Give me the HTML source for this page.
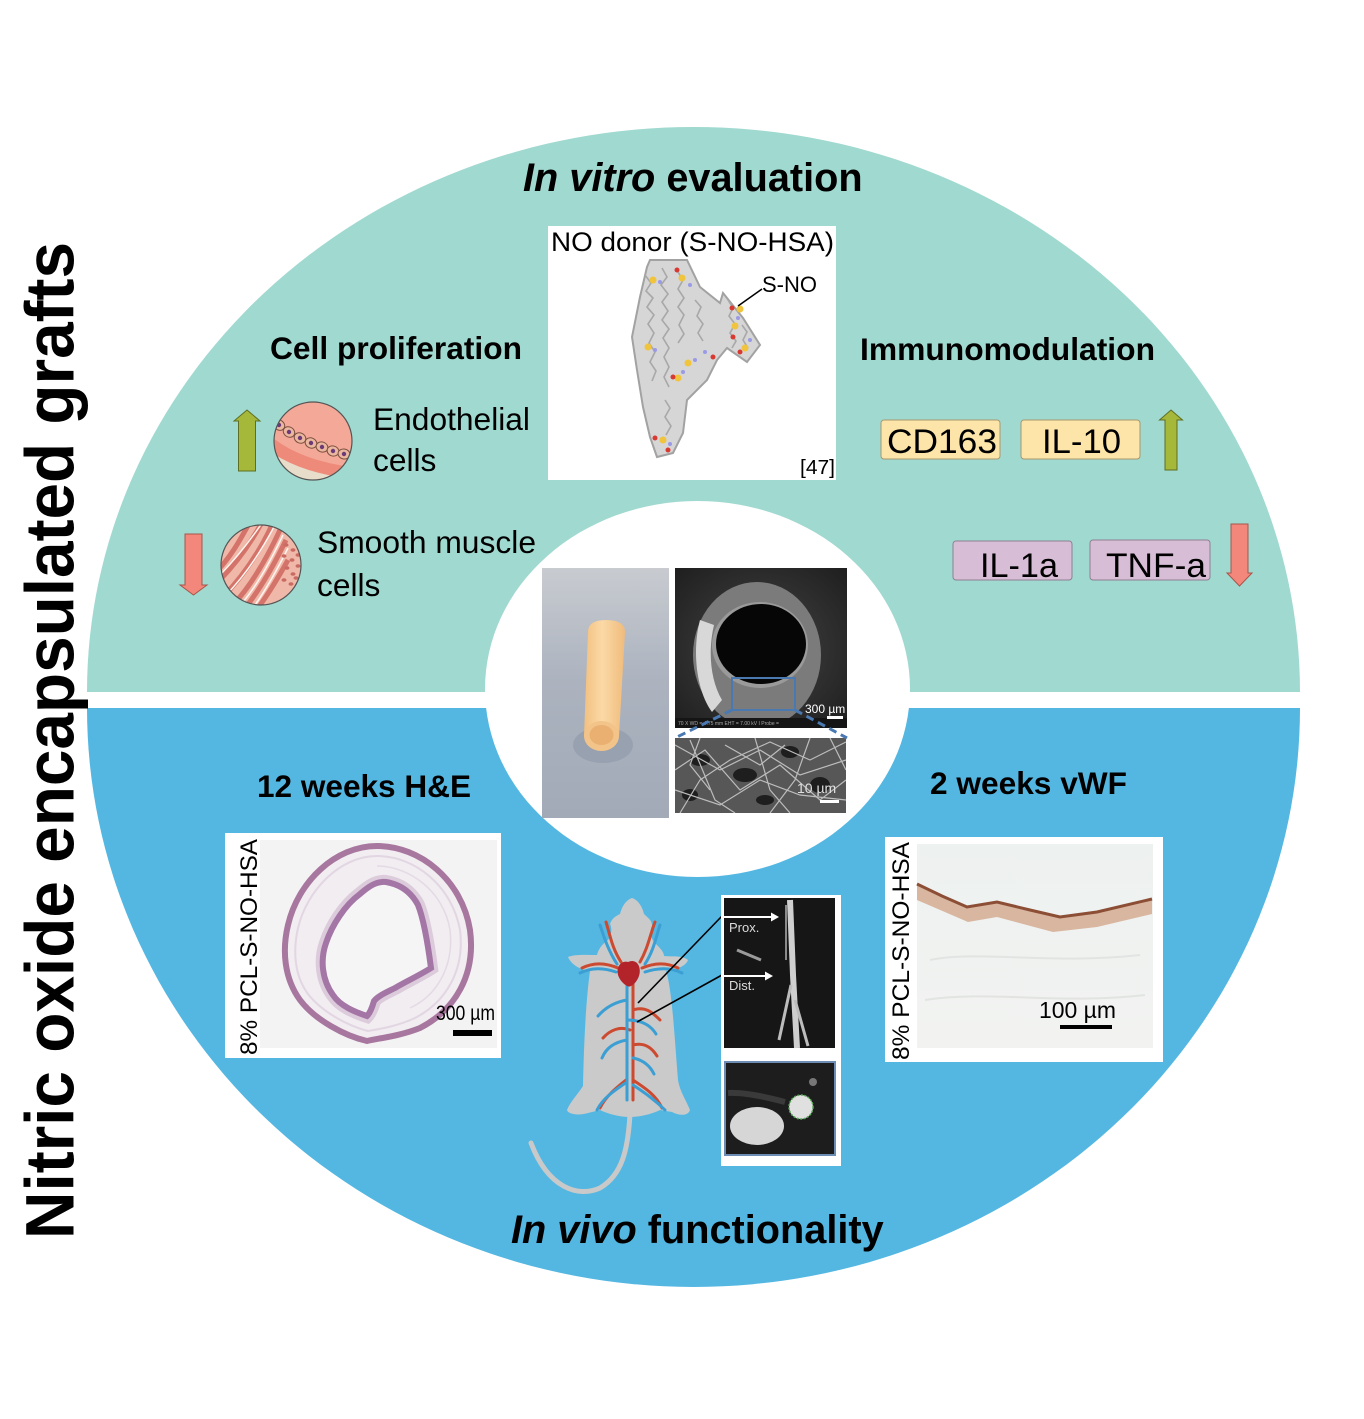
<!DOCTYPE html>
<html><head><meta charset="utf-8">
<style>
html,body{margin:0;padding:0;background:#fff;width:1364px;height:1419px;overflow:hidden}
svg{display:block}
text{font-family:"Liberation Sans",Arial,sans-serif}
</style></head><body>
<svg width="1364" height="1419" viewBox="0 0 1364 1419" xmlns="http://www.w3.org/2000/svg">
<defs>
 <clipPath id="cEndo"><circle cx="313" cy="441" r="39"/></clipPath>
 <clipPath id="cSmc"><circle cx="261" cy="565" r="40"/></clipPath>
 <clipPath id="cSem"><rect x="675" y="738" width="171" height="75"/></clipPath>
 <clipPath id="cSemTop"><rect x="675" y="568" width="172" height="160"/></clipPath>
 <linearGradient id="gTube" x1="0" y1="0" x2="0" y2="1"><stop offset="0" stop-color="#c8cbd0"/><stop offset="0.45" stop-color="#acb3bf"/><stop offset="1" stop-color="#a2aab8"/></linearGradient>
 <linearGradient id="gTubeBody" x1="0" y1="0" x2="1" y2="0"><stop offset="0" stop-color="#f2c080"/><stop offset="0.45" stop-color="#fbd9a6"/><stop offset="1" stop-color="#efbb7c"/></linearGradient>
 <radialGradient id="gSem" cx="0.5" cy="0.5" r="0.75"><stop offset="0" stop-color="#444"/><stop offset="1" stop-color="#1c1c1c"/></radialGradient>
 <linearGradient id="gVwf" x1="0" y1="0" x2="0" y2="1"><stop offset="0" stop-color="#edf1f0"/><stop offset="1" stop-color="#f2f3f1"/></linearGradient>
</defs>

<rect width="1364" height="1419" fill="#fff"/>

<!-- big halves -->
<path d="M87,692 A606.5,565 0 0 1 1300,692 Z" fill="#a0d9d0"/>
<path d="M87,708 A606.5,579 0 0 0 1300,708 Z" fill="#54b7e2"/>
<ellipse cx="697.5" cy="689" rx="212.5" ry="188" fill="#fff"/>

<!-- vertical title -->
<text transform="translate(73.5,1239) rotate(-90)" font-size="69" font-weight="bold" textLength="997" lengthAdjust="spacingAndGlyphs">Nitric oxide encapsulated grafts</text>

<!-- section titles -->
<text x="523" y="191" font-size="39.7" font-weight="bold"><tspan font-style="italic">In vitro</tspan> evaluation</text>
<text x="511" y="1243" font-size="39.7" font-weight="bold"><tspan font-style="italic">In vivo</tspan> functionality</text>

<!-- subtitles -->
<text x="270" y="359" font-size="31.5" font-weight="bold" textLength="252" lengthAdjust="spacingAndGlyphs">Cell proliferation</text>
<text x="860" y="360" font-size="31.5" font-weight="bold" textLength="295" lengthAdjust="spacingAndGlyphs">Immunomodulation</text>
<text x="257" y="797" font-size="31.5" font-weight="bold" textLength="214" lengthAdjust="spacingAndGlyphs">12 weeks H&amp;E</text>
<text x="930" y="794" font-size="31.5" font-weight="bold" textLength="197" lengthAdjust="spacingAndGlyphs">2 weeks vWF</text>

<text x="373" y="430" font-size="31.7" textLength="157" lengthAdjust="spacingAndGlyphs">Endothelial</text>
<text x="373" y="471" font-size="31.7">cells</text>
<text x="317" y="553" font-size="31.7" textLength="219" lengthAdjust="spacingAndGlyphs">Smooth muscle</text>
<text x="317" y="596" font-size="31.7">cells</text>

<!-- arrows left -->
<polygon points="247,410 260,421 255.5,421 255.5,471 238.5,471 238.5,421 234,421" fill="#a5b83a" stroke="#5e6e22" stroke-width="1"/>
<polygon points="185,534 202,534 202,585 207,585 193.5,595 180,585 185,585" fill="#f4877b" stroke="#a8554a" stroke-width="1"/>
<!-- arrows right -->
<polygon points="1171,410 1182.5,420 1177,420 1177,470 1165,470 1165,420 1159.5,420" fill="#a5b83a" stroke="#5e6e22" stroke-width="1"/>
<polygon points="1231,524 1248,524 1248,573 1252,573 1239.5,586 1227,573 1231,573" fill="#f4877b" stroke="#a8554a" stroke-width="1"/>

<!-- endothelial icon -->
<circle cx="313" cy="441" r="39" fill="#f4a898"/>
<g clip-path="url(#cEndo)">
 <path d="M268,434 Q300,462 360,468 L360,500 L260,500 Z" fill="#ee8a7a"/>
 <path d="M268,450 Q300,474 360,480 L360,500 L260,500 Z" fill="#e8dccb"/>
 <g fill="#ebb79f" stroke="#7d5040" stroke-width="1">
  <ellipse cx="279" cy="425" rx="6" ry="5" transform="rotate(35 279 425)"/>
  <ellipse cx="289" cy="432" rx="6" ry="5" transform="rotate(32 289 432)"/>
  <ellipse cx="300" cy="438" rx="6" ry="5" transform="rotate(28 300 438)"/>
  <ellipse cx="311" cy="443" rx="6" ry="5" transform="rotate(24 311 443)"/>
  <ellipse cx="322" cy="447" rx="6" ry="5" transform="rotate(20 322 447)"/>
  <ellipse cx="333" cy="451" rx="6" ry="5" transform="rotate(16 333 451)"/>
  <ellipse cx="344" cy="454" rx="6" ry="5" transform="rotate(12 344 454)"/>
 </g>
 <g fill="#6b3a78">
  <circle cx="279" cy="425" r="2.2"/><circle cx="289" cy="432" r="2.2"/><circle cx="300" cy="438" r="2.2"/>
  <circle cx="311" cy="443" r="2.2"/><circle cx="322" cy="447" r="2.2"/><circle cx="333" cy="451" r="2.2"/><circle cx="344" cy="454" r="2.2"/>
 </g>
</g>
<circle cx="313" cy="441" r="39" fill="none" stroke="#555" stroke-width="1.2"/>

<!-- smooth muscle icon -->
<circle cx="261" cy="565" r="40" fill="#f0b8a8"/>
<g clip-path="url(#cSmc)" fill="none">
 <g stroke="#d4736a" stroke-width="5">
  <path d="M215,585 C235,565 250,545 262,522"/>
  <path d="M220,600 C240,580 258,555 272,525"/>
  <path d="M230,608 C250,588 266,560 280,530"/>
  <path d="M242,612 C260,590 274,565 286,540"/>
  <path d="M218,570 C232,555 240,540 250,522"/>
  <path d="M255,612 C268,595 278,578 288,560"/>
 </g>
 <g stroke="#fff5f0" stroke-width="1.5">
  <path d="M217,578 C237,558 252,538 264,520"/>
  <path d="M225,596 C245,576 262,550 276,523"/>
  <path d="M236,610 C255,590 270,562 283,535"/>
  <path d="M250,612 C265,592 277,570 288,548"/>
 </g>
 <g fill="#c96b63" stroke="none">
  <ellipse cx="286" cy="545" rx="2.5" ry="1.8"/><ellipse cx="293" cy="550" rx="2.5" ry="1.8"/><ellipse cx="284" cy="556" rx="2.5" ry="1.8"/>
  <ellipse cx="292" cy="560" rx="2.5" ry="1.8"/><ellipse cx="298" cy="566" rx="2.5" ry="1.8"/><ellipse cx="287" cy="568" rx="2.5" ry="1.8"/>
  <ellipse cx="293" cy="574" rx="2.5" ry="1.8"/><ellipse cx="284" cy="580" rx="2.5" ry="1.8"/><ellipse cx="291" cy="584" rx="2.5" ry="1.8"/>
  <ellipse cx="298" cy="555" rx="2.5" ry="1.8"/><ellipse cx="296" cy="578" rx="2.5" ry="1.8"/>
 </g>
</g>
<circle cx="261" cy="565" r="40" fill="none" stroke="#555" stroke-width="1.2"/>

<!-- cytokine boxes -->
<rect x="881" y="420" width="119" height="39" rx="3" fill="#fde4a8" stroke="#a8976e" stroke-width="1"/>
<rect x="1021" y="420" width="119" height="39" rx="3" fill="#fde4a8" stroke="#a8976e" stroke-width="1"/>
<rect x="953" y="541" width="119" height="39" rx="3" fill="#d8bdd6" stroke="#8e8090" stroke-width="1"/>
<rect x="1090" y="540" width="120" height="40" rx="3" fill="#d8bdd6" stroke="#8e8090" stroke-width="1"/>
<text x="887" y="453" font-size="34" textLength="110" lengthAdjust="spacingAndGlyphs">CD163</text>
<text x="1042" y="453" font-size="34" textLength="79" lengthAdjust="spacingAndGlyphs">IL-10</text>
<text x="980" y="577" font-size="34" textLength="78" lengthAdjust="spacingAndGlyphs">IL-1a</text>
<text x="1106" y="577" font-size="34" textLength="100" lengthAdjust="spacingAndGlyphs">TNF-a</text>

<!-- NO donor box -->
<rect x="548" y="226" width="288" height="254" fill="#fff"/>
<text x="551" y="251" font-size="27" textLength="283" lengthAdjust="spacingAndGlyphs">NO donor (S-NO-HSA)</text>
<path d="M650,260 L687,260 L700,287 L720,303 L723,293 L743,318 L760,345 L747,362 L727,348 L717,360 L707,380 L687,400 L683,433 L673,453 L657,457 L650,437 L643,407 L637,370 L632,337 L640,297 L647,267 Z" fill="#d6d6d6" stroke="#a2a2a2" stroke-width="2"/>
<g fill="none" stroke="#a8a8a8" stroke-width="1.6">
 <path d="M645,275 l6,8 l-5,8 l7,7 l-6,9 l7,8 l-6,9 l6,9 l-5,10 l6,9 l-5,10 l6,9 l-4,10"/>
 <path d="M662,268 l5,9 l-6,8 l7,9 l-6,8 l6,9 l-6,9 l7,9 l-6,9 l6,10 l-5,9 l5,10 l-5,10 l5,10"/>
 <path d="M678,272 l5,8 l-5,9 l6,9 l-6,9 l6,8 l-5,10 l5,9 l-6,9"/>
 <path d="M695,300 l6,7 l-4,9 l6,8 l-5,9 l5,8"/>
 <path d="M728,300 l5,8 l-4,8 l6,8 l-5,9 l6,8 l-4,7"/>
 <path d="M742,325 l5,7 l-4,8 l5,8"/>
 <path d="M665,400 l5,8 l-5,9 l6,9 l-5,9"/>
</g>
<g fill="#f0c43c">
 <circle cx="653" cy="280" r="3.5"/><circle cx="682" cy="278" r="3.5"/><circle cx="740" cy="309" r="3.5"/>
 <circle cx="735" cy="326" r="3.5"/><circle cx="745" cy="348" r="3.5"/><circle cx="648" cy="347" r="3.5"/>
 <circle cx="688" cy="363" r="3.5"/><circle cx="678" cy="378" r="3.5"/><circle cx="663" cy="440" r="3.5"/>
</g>
<g fill="#d83a32">
 <circle cx="677" cy="270" r="2.5"/><circle cx="732" cy="308" r="2.5"/><circle cx="733" cy="337" r="2.5"/>
 <circle cx="740" cy="352" r="2.5"/><circle cx="713" cy="357" r="2.5"/><circle cx="673" cy="377" r="2.5"/>
 <circle cx="655" cy="438" r="2.5"/><circle cx="668" cy="450" r="2.5"/>
</g>
<g fill="#9a9ae6">
 <circle cx="660" cy="282" r="2"/><circle cx="690" cy="285" r="2"/><circle cx="738" cy="318" r="2"/>
 <circle cx="655" cy="350" r="2"/><circle cx="695" cy="360" r="2"/><circle cx="683" cy="372" r="2"/>
 <circle cx="670" cy="444" r="2"/><circle cx="705" cy="352" r="2"/><circle cx="750" cy="340" r="2"/>
</g>
<line x1="738" y1="306" x2="762" y2="289" stroke="#000" stroke-width="1.5"/>
<text x="762" y="292" font-size="22" textLength="55" lengthAdjust="spacingAndGlyphs">S-NO</text>
<text x="800" y="474" font-size="20" textLength="35" lengthAdjust="spacingAndGlyphs">[47]</text>

<!-- central photos -->
<rect x="542" y="568" width="127" height="250" fill="url(#gTube)"/>
<ellipse cx="603" cy="745" rx="30" ry="18" fill="#8e97a8" opacity="0.6"/>
<path d="M588,632 Q588,620 606,620 Q625,620 625,632 L619,736 L584,736 Z" fill="url(#gTubeBody)"/>
<ellipse cx="601.5" cy="736" rx="17.5" ry="15" fill="#f3c489"/>
<ellipse cx="601.5" cy="735" rx="12" ry="10" fill="#e9b072"/>

<rect x="675" y="568" width="172" height="160" fill="url(#gSem)"/>
<g clip-path="url(#cSemTop)">
 <ellipse cx="757" cy="655" rx="64" ry="73" fill="#7b7b7b"/>
 <path d="M700,620 C692,650 696,690 712,712 L722,700 C710,680 708,650 714,625 Z" fill="#d8d8d8"/>
 <ellipse cx="760" cy="645" rx="48" ry="43" fill="#9a9a9a"/>
 <ellipse cx="761" cy="644" rx="45" ry="40" fill="#060606"/>
</g>
<rect x="675" y="718" width="172" height="10" fill="#151515"/>
<text x="678" y="725" font-size="5" fill="#aaa">70 X   WD = 4.75 mm   EHT = 7.00 kV   I Probe =</text>
<text x="805" y="713" font-size="12" fill="#fff">300 µm</text>
<rect x="827" y="716" width="16" height="3" fill="#fff"/>
<rect x="732" y="678" width="63" height="32" fill="none" stroke="#4a78b0" stroke-width="2"/>

<rect x="675" y="738" width="171" height="75" fill="#575757"/>
<g clip-path="url(#cSem)">
 <g fill="#1e1e1e">
  <ellipse cx="700" cy="760" rx="10" ry="6"/><ellipse cx="745" cy="775" rx="12" ry="7"/><ellipse cx="790" cy="752" rx="9" ry="6"/>
  <ellipse cx="820" cy="785" rx="10" ry="8"/><ellipse cx="690" cy="795" rx="8" ry="6"/><ellipse cx="765" cy="800" rx="9" ry="5"/>
 </g>
 <g stroke="#bdbdbd" stroke-width="1.2" fill="none">
  <path d="M675,745 L720,770 L760,750 L800,775 L846,760"/>
  <path d="M675,770 L705,750 L740,790 L780,765 L820,800 L846,780"/>
  <path d="M680,813 L700,780 L730,760 L770,742 L810,760 L846,742"/>
  <path d="M690,740 L715,800 L735,813"/>
  <path d="M755,738 L770,790 L790,813"/>
  <path d="M810,738 L795,780 L770,813"/>
  <path d="M675,790 L720,805 L760,780 L800,795 L846,800"/>
  <path d="M830,738 L846,770"/>
  <path d="M700,738 L690,765 L710,790"/>
  <path d="M725,745 L760,765 L785,745"/>
 </g>
</g>
<path d="M732,710 L677,737" stroke="#4a78b0" stroke-width="3" stroke-dasharray="8,5"/>
<path d="M795,710 L847,738" stroke="#4a78b0" stroke-width="3" stroke-dasharray="8,5"/>
<text x="797" y="793" font-size="14" fill="#e0e0e0">10 µm</text>
<rect x="820" y="800" width="19" height="3" fill="#fff"/>

<!-- H&E panel -->
<rect x="225" y="833" width="276" height="225" fill="#fff"/>
<rect x="260" y="840" width="237" height="208" fill="#f4f3f4"/>
<path d="M377,846 C420,846 462,880 470,930 C476,975 455,1010 420,1028 C400,1036 380,1038 367,1041 C345,1036 315,1020 300,1000 C284,978 282,950 288,925 C298,882 335,846 377,846 Z" fill="#f1edf1" stroke="#a8779f" stroke-width="6"/>
<path d="M377,856 C415,856 452,886 460,930 C465,970 446,1002 415,1018 C398,1026 380,1029 368,1031 C348,1026 322,1012 308,994 C294,975 293,950 298,928 C307,890 340,856 377,856 Z" fill="none" stroke="#e2d6e2" stroke-width="2"/>
<path d="M377,866 C410,866 444,892 450,930 C454,965 438,995 410,1008" fill="none" stroke="#e4dae4" stroke-width="1.5"/>
<path d="M386,882 C398,884 410,890 418,905 C424,920 428,945 431,968 C420,975 405,982 395,988 C385,993 378,996 374,1001 C372,1008 370,1013 367,1016 C355,1012 340,1006 333,995 C322,980 320,960 326,943 C332,925 345,905 360,894 C368,887 376,881 386,882 Z" fill="#f5f4f5" stroke="#dccbdb" stroke-width="14"/>
<path d="M386,882 C398,884 410,890 418,905 C424,920 428,945 431,968 C420,975 405,982 395,988 C385,993 378,996 374,1001 C372,1008 370,1013 367,1016 C355,1012 340,1006 333,995 C322,980 320,960 326,943 C332,925 345,905 360,894 C368,887 376,881 386,882 Z" fill="#f6f5f6" stroke="#a476a6" stroke-width="6"/>
<text transform="translate(257,1055) rotate(-90)" font-size="24" textLength="216" lengthAdjust="spacingAndGlyphs">8% PCL-S-NO-HSA</text>
<text x="436" y="1020" font-size="21" textLength="59" lengthAdjust="spacingAndGlyphs">300 µm</text>
<rect x="453" y="1030" width="39" height="6" fill="#000"/>

<!-- vWF panel -->
<rect x="885" y="837" width="278" height="225" fill="#fff"/>
<rect x="917" y="844" width="236" height="204" fill="url(#gVwf)"/>
<path d="M917,884 L942,896 L967,907 L997,902 L1030,910 L1060,917 L1097,912 L1152,899 L1152,914 L1097,927 L1053,932 L997,917 L968,922 L917,900 Z" fill="#d9b6a0"/>
<path d="M917,884 L942,896 L967,907 L997,902 L1030,910 L1060,917 L1097,912 L1152,899" fill="none" stroke="#8c4f35" stroke-width="3"/>
<path d="M930,960 C980,950 1050,965 1140,955 M925,1000 C990,990 1060,1005 1145,995" stroke="#e2e4e2" stroke-width="2" fill="none"/>
<text transform="translate(909,1060) rotate(-90)" font-size="24" textLength="218" lengthAdjust="spacingAndGlyphs">8% PCL-S-NO-HSA</text>
<text x="1039" y="1018" font-size="23" textLength="77" lengthAdjust="spacingAndGlyphs">100 µm</text>
<rect x="1060" y="1025" width="52" height="4" fill="#000"/>

<!-- mouse -->
<path d="M630,1114 C628,1150 622,1175 600,1188 C578,1198 548,1188 531,1143" fill="none" stroke="#c9c9c9" stroke-width="5" stroke-linecap="round"/>
<path d="M632,898 C638,900 642,906 644,914 C648,918 652,920 652,926 C650,930 650,936 654,942 C660,948 664,952 664,956 C672,957 682,955 688,960 C686,966 676,970 666,971 C672,990 674,1030 678,1080 C680,1092 686,1100 690,1110 C688,1116 680,1116 672,1112 L660,1110 C652,1114 640,1117 630,1117 C620,1117 608,1114 600,1110 L588,1113 C578,1116 568,1114 567,1110 C570,1102 578,1094 583,1086 C584,1040 586,1000 590,971 C582,970 572,966 568,957 C575,954 587,955 597,955 C598,950 602,944 608,940 C612,934 612,928 610,924 C612,918 616,916 620,914 C622,906 626,900 632,898 Z" fill="#cacaca"/>
<g fill="none" stroke-linecap="round">
 <g stroke="#cc4a30" stroke-width="3">
  <path d="M633,978 L633,1100"/>
  <path d="M621,962 C612,948 610,935 606,922"/><path d="M640,962 C648,948 650,935 655,922"/>
  <path d="M618,968 C604,962 592,963 582,968"/><path d="M642,968 C656,962 668,963 678,968"/>
  <path d="M633,1080 C645,1088 656,1095 662,1108"/><path d="M626,1080 C616,1088 606,1096 600,1108"/>
  <path d="M633,1010 C645,1006 652,1012 660,1020"/><path d="M630,1030 C620,1026 610,1030 603,1038"/>
  <path d="M633,1045 C645,1042 652,1048 657,1056"/>
 </g>
 <g stroke="#3b9fd4" stroke-width="3">
  <path d="M627,975 L627,1100"/>
  <path d="M617,964 C608,950 604,937 600,925"/><path d="M645,964 C654,950 656,937 660,925"/>
  <path d="M616,972 C602,967 590,968 580,973"/><path d="M645,972 C660,967 672,968 682,973"/>
  <path d="M627,1082 C615,1090 603,1098 597,1110"/><path d="M633,1085 C645,1093 655,1100 665,1110"/>
  <path d="M627,1000 C615,1002 605,1008 598,1016"/><path d="M627,1020 C640,1020 650,1024 656,1034"/>
  <path d="M627,1040 C615,1042 606,1048 602,1058"/><path d="M633,1058 C643,1060 650,1066 654,1074"/>
 </g>
</g>
<path d="M628,962 C636,958 642,966 639,976 C636,984 630,988 627,986 C620,982 616,974 618,968 C620,962 625,961 628,962 Z" fill="#b2232a"/>
<line x1="638" y1="1003" x2="722" y2="916" stroke="#000" stroke-width="1.6"/>
<line x1="637" y1="1022" x2="722" y2="975" stroke="#000" stroke-width="1.6"/>

<!-- MRI panel -->
<rect x="721" y="895" width="120" height="271" fill="#fff"/>
<rect x="724" y="898" width="111" height="150" fill="#161616"/>
<path d="M790,900 L793,975 L797,1048" stroke="#cfcfcf" stroke-width="6" fill="none"/>
<path d="M791,985 L779,1040" stroke="#bdbdbd" stroke-width="3" fill="none"/>
<path d="M795,1000 L808,1046" stroke="#bdbdbd" stroke-width="3" fill="none"/>
<path d="M786,905 L786,960" stroke="#8a8a8a" stroke-width="2" fill="none"/>
<path d="M737,950 L761,960" stroke="#9a9a9a" stroke-width="3" fill="none"/>
<line x1="724" y1="917" x2="772" y2="917" stroke="#fff" stroke-width="2"/>
<polygon points="771,912.5 779,917 771,921.5" fill="#fff"/>
<line x1="724" y1="976" x2="766" y2="976" stroke="#fff" stroke-width="2"/>
<polygon points="765,971.5 773,976 765,980.5" fill="#fff"/>
<text x="729" y="932" font-size="13" fill="#dcdcdc">Prox.</text>
<text x="729" y="990" font-size="13" fill="#dcdcdc">Dist.</text>
<rect x="725" y="1062" width="110" height="93" fill="#1d1d1d" stroke="#6d8db5" stroke-width="2"/>
<path d="M728,1093 C745,1092 770,1098 785,1102" stroke="#3a3a3a" stroke-width="6" fill="none"/>
<ellipse cx="757" cy="1126" rx="27" ry="19" fill="#d6d6d6"/>
<circle cx="801" cy="1107" r="12" fill="#e0e0e0" stroke="#5aa85a" stroke-width="1.5" stroke-dasharray="2,1.5"/>
<circle cx="813" cy="1082" r="4" fill="#777"/>
</svg>
</body></html>
